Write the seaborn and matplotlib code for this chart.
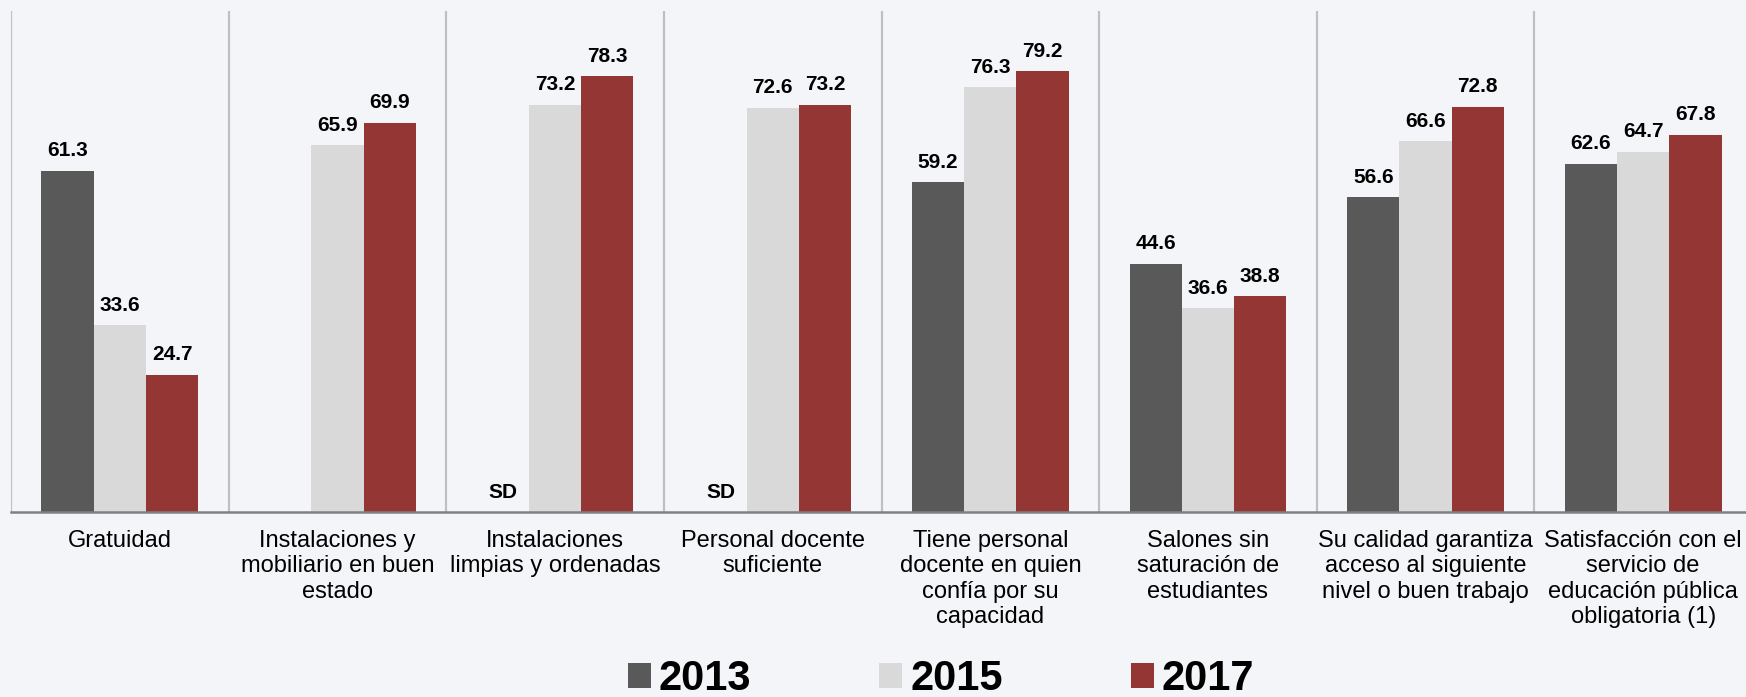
import numpy as np
import pandas as pd
import matplotlib
matplotlib.use("Agg")
import matplotlib.pyplot as plt
import seaborn as sns

categories = [
    "Gratuidad",
    "Instalaciones y\nmobiliario en buen\nestado",
    "Instalaciones\nlimpias y ordenadas",
    "Personal docente\nsuficiente",
    "Tiene personal\ndocente en quien\nconfía por su\ncapacidad",
    "Salones sin\nsaturación de\nestudiantes",
    "Su calidad garantiza\nacceso al siguiente\nnivel o buen trabajo",
    "Satisfacción con el\nservicio de\neducación pública\nobligatoria (1)",
]
years = ["2013", "2015", "2017"]
v2013 = [61.3, np.nan, np.nan, np.nan, 59.2, 44.6, 56.6, 62.6]
v2015 = [33.6, 65.9, 73.2, 72.6, 76.3, 36.6, 66.6, 64.7]
v2017 = [24.7, 69.9, 78.3, 73.2, 79.2, 38.8, 72.8, 67.8]
# text shown where a year has no value
missing2013 = ["", "", "SD", "SD", "", "", "", ""]

colors = ["#595959", "#d9d9d9", "#943634"]
bg = "#f4f5f9"

sns.set_style("white")
plt.rcParams["font.family"] = ["Liberation Sans", "DejaVu Sans"]

rows = []
for yr, vals in zip(years, [v2013, v2015, v2017]):
    for cat, v in zip(categories, vals):
        rows.append({"categoria": cat, "anio": yr, "valor": v})
df = pd.DataFrame(rows)

fig = plt.figure(figsize=(17.46, 6.97), dpi=100, facecolor=bg)
ax = fig.add_axes([11 / 1746, 1 - 512 / 697, 1741 / 1746, 501 / 697])
ax.set_facecolor(bg)

sns.barplot(data=df, x="categoria", y="valor", hue="anio", order=categories,
            hue_order=years, palette=colors, width=0.72, saturation=1,
            linewidth=0, ax=ax, legend=True)

ax.set_xlim(-0.5, len(categories) - 0.5)
ax.set_ylim(0, 90)

# value labels above each bar
for cont in ax.containers:
    for bar in cont:
        h = bar.get_height()
        if np.isnan(h):
            continue
        ax.annotate(f"{h:.1f}", (bar.get_x() + bar.get_width() / 2, h),
                    xytext=(0, 7.5), textcoords="offset points",
                    ha="center", va="bottom", fontsize=15, fontweight="bold",
                    color="black")

# "SD" markers where 2013 has no data
ref_bars = list(ax.containers[1])
for i, txt in enumerate(missing2013):
    if txt:
        b = ref_bars[i]
        xc = b.get_x() + b.get_width() / 2 - b.get_width()
        ax.annotate(txt, (xc, 0), xytext=(0, 7.5), textcoords="offset points",
                    ha="center", va="bottom", fontsize=15, fontweight="bold",
                    color="black")

# category separators
for xb in np.arange(-0.5, len(categories) - 0.5, 1.0):
    ax.axvline(xb, color="#bfbfbf", lw=1.6, zorder=0)

for s in ["top", "right", "left"]:
    ax.spines[s].set_visible(False)
ax.spines["bottom"].set_color("#808080")
ax.spines["bottom"].set_linewidth(1.8)

ax.set_yticks([])
ax.set_xticks(range(len(categories)))
ax.set_xticklabels(categories, fontsize=17, color="black", linespacing=1.2)
ax.tick_params(axis="x", which="major", length=0, pad=13)
ax.set_xticks(np.arange(-0.5, len(categories) + 0.5, 1.0), minor=True)
ax.tick_params(axis="x", which="minor", length=6, width=1.5, color="#808080",
               direction="out")
ax.set_xlabel("")
ax.set_ylabel("")

handles, labels = ax.get_legend_handles_labels()
ax.legend_.remove()
leg = fig.legend(handles, labels, loc="center",
                 bbox_to_anchor=(941 / 1746, 1 - 679 / 697),
                 ncol=3, frameon=False, handlelength=0.55, handleheight=0.53,
                 handletextpad=0.19, columnspacing=3.07, borderpad=0,
                 prop={"family": "Liberation Sans", "weight": "bold", "size": 30})
for t in leg.get_texts():
    t.set_color("black")

fig.savefig("out.png", dpi=100, facecolor=bg)
